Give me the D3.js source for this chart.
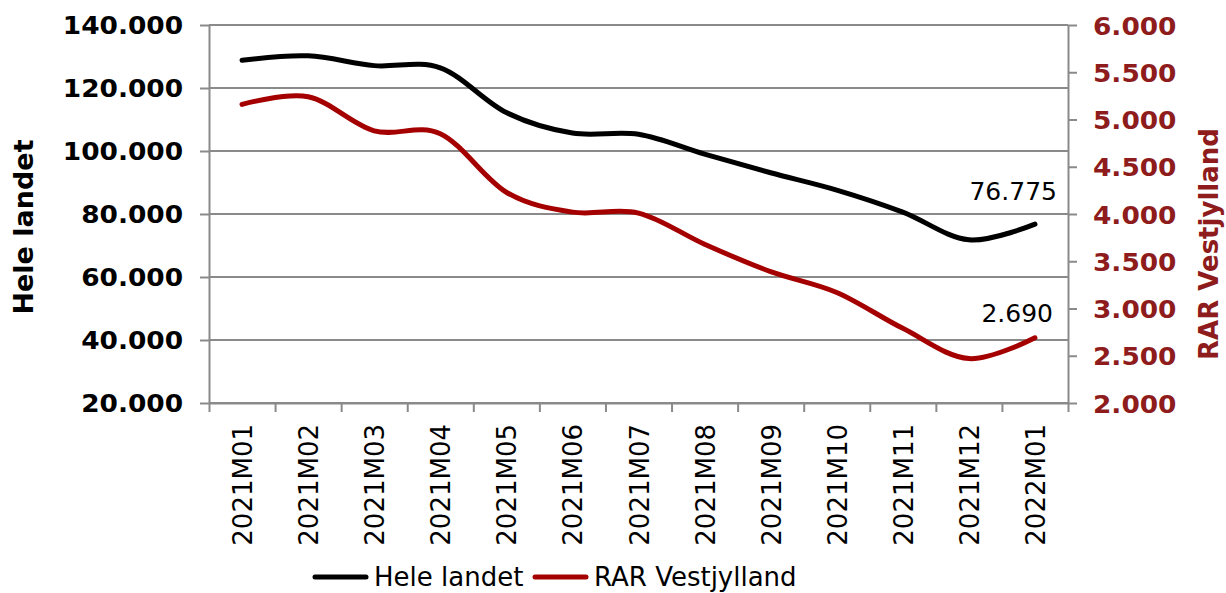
<!DOCTYPE html>
<html>
<head>
<meta charset="utf-8">
<script src="https://cdn.jsdelivr.net/npm/d3@7"></script>
<style>
  html, body { margin: 0; padding: 0; background: #fff; }
  svg { display: block; font-family: "DejaVu Sans", Verdana, sans-serif; }
</style>
</head>
<body>
<svg id="chart" width="1226" height="593"></svg>
<script>
const categories = ["2021M01","2021M02","2021M03","2021M04","2021M05","2021M06","2021M07","2021M08","2021M09","2021M10","2021M11","2021M12","2022M01"];
const heleLandet = [128800, 130200, 127100, 126400, 112200, 105700, 105300, 99000, 93100, 87600, 80600, 71800, 76775];
const rarVestjylland = [5160, 5240, 4880, 4850, 4230, 4020, 4010, 3680, 3390, 3170, 2790, 2470, 2690];
const leftTicks = [20000, 40000, 60000, 80000, 100000, 120000, 140000];
const rightTicks = [2000, 2500, 3000, 3500, 4000, 4500, 5000, 5500, 6000];
const seriesNames = ["Hele landet", "RAR Vestjylland"];

const BLACK = "#000000";
const RED = "#a50000";
const RED_TXT = "#8e1c1c";
const GRID = "#8a8a8a";

const svg = d3.select("#chart");
const L = 209, R = 1068, T = 25, B = 403;

const loc = d3.formatLocale({decimal: ",", thousands: ".", grouping: [3], currency: ["", ""]});
const fmt = loc.format(",d");

const x = d3.scaleBand().domain(categories).range([L, R]).padding(0);
const xLin = d3.scaleLinear().domain([0, categories.length]).range([L, R]);
const yL = d3.scaleLinear().domain([20000, 140000]).range([B, T]);
const yR = d3.scaleLinear().domain([2000, 6000]).range([B, T]);

// gridlines
svg.append("g").selectAll("line").data(leftTicks).join("line")
  .attr("x1", L).attr("x2", R)
  .attr("y1", d => yL(d)).attr("y2", d => yL(d))
  .attr("stroke", GRID).attr("stroke-width", 2);

// left axis
const gL = svg.append("g").attr("transform", `translate(${L},0)`)
  .call(d3.axisLeft(yL).tickValues(leftTicks).tickSize(9).tickSizeOuter(0).tickFormat(fmt));
gL.select(".domain").attr("stroke", GRID).attr("stroke-width", 2);
gL.selectAll(".tick line").attr("stroke", GRID).attr("stroke-width", 2);
gL.selectAll(".tick text")
  .attr("x", 0).attr("y", 0).attr("dy", null)
  .attr("transform", "translate(-26,8) scale(1.1,1)")
  .attr("text-anchor", "end")
  .attr("fill", "#000").attr("font-weight", "bold").attr("font-size", 24)
  .attr("font-family", "DejaVu Sans, Verdana, sans-serif");

// right axis
const gR = svg.append("g").attr("transform", `translate(${R},0)`)
  .call(d3.axisRight(yR).tickValues(rightTicks).tickSize(9).tickSizeOuter(0).tickFormat(fmt));
gR.select(".domain").attr("stroke", GRID).attr("stroke-width", 2);
gR.selectAll(".tick line").attr("stroke", GRID).attr("stroke-width", 2);
gR.selectAll(".tick text")
  .attr("x", 0).attr("y", 0).attr("dy", null)
  .attr("transform", "translate(25,9) scale(1.1,1)")
  .attr("text-anchor", "start")
  .attr("fill", RED_TXT).attr("font-weight", "bold").attr("font-size", 24)
  .attr("font-family", "DejaVu Sans, Verdana, sans-serif");

// bottom axis: boundary ticks
const gBt = svg.append("g").attr("transform", `translate(0,${B})`)
  .call(d3.axisBottom(xLin).tickValues(d3.range(categories.length + 1)).tickSize(9).tickSizeOuter(0).tickFormat(""));
gBt.select(".domain").attr("stroke", GRID).attr("stroke-width", 2);
gBt.selectAll(".tick line").attr("stroke", GRID).attr("stroke-width", 2);

// bottom labels
const gB = svg.append("g").attr("transform", `translate(0,${B})`)
  .call(d3.axisBottom(x).tickSize(0).tickSizeOuter(0));
gB.select(".domain").remove();
gB.selectAll(".tick text")
  .attr("x", 0).attr("y", 0).attr("dy", null)
  .attr("transform", "translate(10,21) rotate(-90)")
  .attr("text-anchor", "end")
  .attr("fill", "#000").attr("font-size", 26)
  .attr("font-family", "DejaVu Sans, Verdana, sans-serif");

// lines
const cx = d => x(d) + x.bandwidth() / 2;
const lineL = d3.line().x((d, i) => cx(categories[i])).y(d => yL(d)).curve(d3.curveCardinal.tension(0));
const lineR = d3.line().x((d, i) => cx(categories[i])).y(d => yR(d)).curve(d3.curveCardinal.tension(0));

svg.append("path").datum(rarVestjylland).attr("d", lineR)
  .attr("fill", "none").attr("stroke", RED).attr("stroke-width", 5).attr("stroke-linecap", "round");
svg.append("path").datum(heleLandet).attr("d", lineL)
  .attr("fill", "none").attr("stroke", BLACK).attr("stroke-width", 5).attr("stroke-linecap", "round");

// data labels on last points
const last = categories.length - 1;
svg.append("text")
  .attr("x", cx(categories[last]) + 22).attr("y", yL(heleLandet[last]) - 24)
  .attr("text-anchor", "end").attr("font-size", 25).attr("fill", "#000")
  .text(fmt(heleLandet[last]));
svg.append("text")
  .attr("x", cx(categories[last]) + 18).attr("y", yR(rarVestjylland[last]) - 16)
  .attr("text-anchor", "end").attr("font-size", 25).attr("fill", "#000")
  .text(fmt(rarVestjylland[last]));

// axis titles
svg.append("text")
  .attr("transform", "translate(33,227) rotate(-90)")
  .attr("text-anchor", "middle").attr("font-weight", "bold").attr("font-size", 27).attr("fill", "#000")
  .text(seriesNames[0]);
svg.append("text")
  .attr("transform", "translate(1218,244) rotate(-90)")
  .attr("text-anchor", "middle").attr("font-weight", "bold").attr("font-size", 26).attr("fill", RED_TXT)
  .text(seriesNames[1]);

// legend
const legend = [
  {name: seriesNames[0], color: BLACK, x0: 313},
  {name: seriesNames[1], color: RED, x0: 533}
];
const lg = svg.append("g");
legend.forEach(d => {
  lg.append("line").attr("x1", d.x0 + 2).attr("x2", d.x0 + 53).attr("y1", 577).attr("y2", 577)
    .attr("stroke", d.color).attr("stroke-width", 5).attr("stroke-linecap", "round");
  lg.append("text").attr("x", d.x0 + 61).attr("y", 586)
    .attr("font-size", 26).attr("fill", "#000").text(d.name);
});
</script>
</body>
</html>
